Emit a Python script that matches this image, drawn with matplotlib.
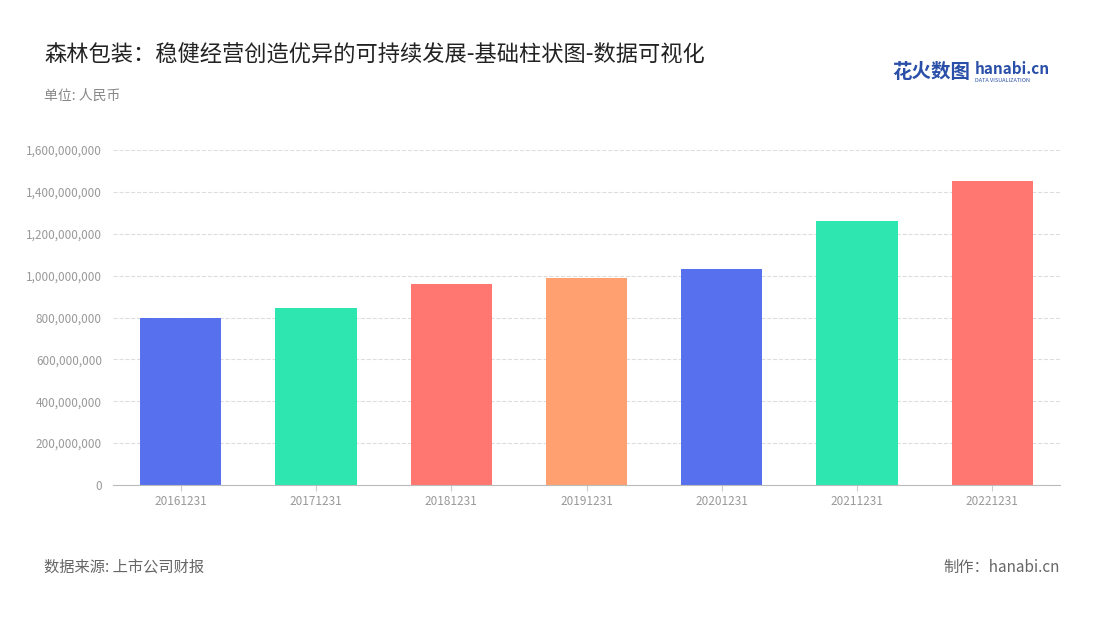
import matplotlib.pyplot as plt
from matplotlib.ticker import FuncFormatter

plt.rcParams['font.family'] = ['Noto Sans CJK SC', 'DejaVu Sans']

years = ['20161231', '20171231', '20181231', '20191231', '20201231', '20211231', '20221231']
values = [800e6, 845e6, 962e6, 988e6, 1030e6, 1262e6, 1452e6]
colors = ['#5770EE', '#2EE6B0', '#FF7770', '#FFA070', '#5770EE', '#2EE6B0', '#FF7770']

fig = plt.figure(figsize=(11, 6.2), dpi=100)
ax = fig.add_axes([113 / 1100, 1 - 485 / 620, (1060 - 113) / 1100, (485 - 150) / 620])

ax.bar(range(len(years)), values, width=0.6, color=colors, zorder=2)
ax.set_xlim(-0.5, len(years) - 0.5)
ax.set_ylim(0, 1.6e9)
ax.set_yticks([i * 2e8 for i in range(9)])
ax.yaxis.set_major_formatter(FuncFormatter(lambda v, p: f'{int(v):,}'))
ax.set_xticks(range(len(years)))
ax.set_xticklabels(years)
ax.tick_params(axis='y', labelsize=8.5, colors='#999999', length=0, pad=8)
ax.tick_params(axis='x', labelsize=8.5, colors='#999999', length=4, color='#cccccc', pad=3)
ax.grid(axis='y', linestyle='--', color='#dddddd', zorder=0)
for s in ['top', 'right', 'left']:
    ax.spines[s].set_visible(False)
ax.spines['bottom'].set_color('#bbbbbb')

fig.text(44 / 1100, 1 - 55 / 620, '森林包装：稳健经营创造优异的可持续发展-基础柱状图-数据可视化',
         fontsize=16, color='#222222', va='center')
fig.text(44 / 1100, 1 - 96 / 620, '单位: 人民币', fontsize=10, color='#888888', va='center')
fig.text(44 / 1100, 1 - 567 / 620, '数据来源: 上市公司财报', fontsize=11, color='#666666', va='center')
fig.text(1060 / 1100, 1 - 567 / 620, '制作：hanabi.cn', fontsize=11, color='#666666', va='center', ha='right')
fig.text(892 / 1100, 1 - 72 / 620, '花火数图', fontsize=14, color='#2a4fa8', va='center', fontweight='bold')
fig.text(975 / 1100, 1 - 69 / 620, 'hanabi.cn', fontsize=11, color='#2a4fa8', va='center', fontweight='bold')
fig.text(975 / 1100, 1 - 80 / 620, 'DATA VISUALIZATION', fontsize=4, color='#2a4fa8', va='center')

fig.savefig('out.png', dpi=100)
